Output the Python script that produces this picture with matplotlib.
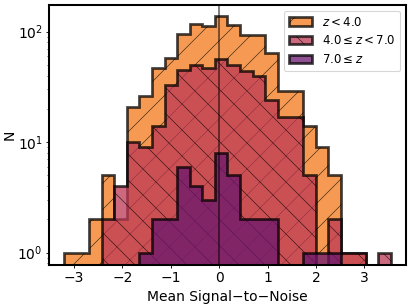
import numpy as np
import matplotlib
matplotlib.use("Agg")
import matplotlib.pyplot as plt

# bin range (26 equal bins)
bin_lo, bin_hi, n_bins = -3.21, 3.55, 26

# counts per bin for each redshift group
counts_low = [1, 1, 2, 5, 2, 21, 26, 47, 58, 96, 118, 112, 138, 115, 93, 93, 64,
              29, 29, 14, 9, 5, 1, 1, 0, 0]
counts_mid = [0, 0, 0, 2, 4, 10, 9, 14, 33, 45, 50, 47, 56, 50, 44, 40, 24,
              17, 17, 5, 0, 2, 1, 1, 0, 1]
counts_high = [0, 0, 0, 0, 0, 0, 1, 2, 2, 6, 4, 3, 8, 5, 2, 2, 2,
               0, 0, 1, 1, 1, 0, 0, 0, 0]

labels = [r"$z < 4.0$", r"$4.0 \leq z < 7.0$", r"$7.0 \leq z$"]
hatches = ["/", "\\", None]

edges = np.linspace(bin_lo, bin_hi, n_bins + 1)
centers = 0.5 * (edges[:-1] + edges[1:])

cmap = plt.get_cmap("inferno")
colors = [cmap(0.7), cmap(0.5), cmap(0.3)]

DPI = 78
plt.rcParams["font.size"] = 12.8
plt.rcParams["hatch.linewidth"] = 0.6
plt.rcParams["xtick.major.size"] = 3.0
plt.rcParams["ytick.major.size"] = 3.0
plt.rcParams["xtick.major.pad"] = 2.8
plt.rcParams["ytick.major.pad"] = 2.8

fig = plt.figure(figsize=(411 / DPI, 306 / DPI), dpi=DPI)
ax = fig.add_axes([0.119, 0.134, 0.869, 0.850])

for cnt, lab, col, h in zip([counts_low, counts_mid, counts_high], labels, colors, hatches):
    ax.hist(centers, bins=edges, weights=cnt, histtype="stepfilled", log=True,
            facecolor=col, edgecolor="k", linewidth=2.5, alpha=0.75, hatch=h, label=lab)

ax.axvline(0, color="k", alpha=0.5, lw=1.8)

ax.set_xlim(-3.52, 3.86)
ax.set_ylim(0.774, 174.6)
ax.set_xticks([-3, -2, -1, 0, 1, 2, 3])
ax.set_xlabel("Mean Signal\u2212to\u2212Noise")
ax.set_ylabel("N")
ax.yaxis.set_label_coords(-0.09, 0.5)
for s in ax.spines.values():
    s.set_linewidth(1.9)

ax.legend(loc="upper right", fontsize=10.9)

fig.savefig("out.png", dpi=DPI)
